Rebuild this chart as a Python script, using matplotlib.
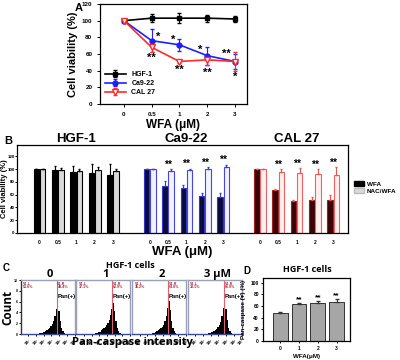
import numpy as np
import matplotlib.pyplot as plt
import matplotlib.patches as mpatches

plt.rcParams.update({
    "font.family": ["Liberation Sans", "DejaVu Sans"],
    "font.weight": "bold",
    "axes.labelweight": "bold",
    "axes.titleweight": "bold",
    "axes.linewidth": 0.9,
    "xtick.major.width": 0.7,
    "ytick.major.width": 0.7,
    "xtick.major.size": 2,
    "ytick.major.size": 2,
})

W, H = 400, 360          # figure size in px (dpi 100)

def box(x0, y0, x1, y1):
    """pixel box (top-left origin) -> figure fraction rect"""
    return [x0 / W, 1 - y1 / H, (x1 - x0) / W, (y1 - y0) / H]

# ---- data: panel A (dose response) -------------------------------------------
DOSES = ["0", "0.5", "1", "2", "3"]
A_HGF = [100, 103, 103, 103, 102]
A_HGF_ERR = [0, 5, 6, 4, 4]
A_CA9 = [100, 76, 71, 58, 51]
A_CA9_ERR = [0, 14, 7, 11, 9]
A_CAL = [100, 68, 51, 53, 51]
A_CAL_ERR = [0, 6, 2, 6, 11]
A_SIG_CA9 = ["", "*", "*", "*", "**"]
A_SIG_CAL = ["", "**", "**", "**", "*"]

# ---- data: panel B (WFA vs NAC/WFA) ------------------------------------------
CELLS = ["HGF-1", "Ca9-22", "CAL 27"]
B_WFA = [[100, 99, 96, 94, 91], [100, 74, 71, 58, 57], [100, 67, 50, 52, 51]]
B_WFA_ERR = [[0, 6, 9, 14, 17], [0, 7, 4, 5, 5], [0, 2, 2, 5, 9]]
B_NAC = [[100, 99, 97, 99, 97], [100, 98, 99, 100, 104], [100, 95, 94, 92, 91]]
B_NAC_ERR = [[0, 3, 3, 5, 3], [0, 2, 2, 3, 3], [0, 5, 8, 8, 12]]
B_SIG = [["", "", "", "", ""], ["", "**", "**", "**", "**"], ["", "**", "**", "**", "**"]]

# ---- data: panel C (flow histograms, counts per log-intensity bin) -----------
C_TITLES = ["0", "1", "2", "3 \u03bcM"]
C_LEFT = ["51.6%", "37.1%", "35.2%", "33.1%"]
C_RIGHT = ["48.4%", "62.9%", "64.8%", "66.9%"]
C_HIST = [
    [0, 0, 0, 0, 0, 0, 0, 0, 0, 0, 1, 2, 3, 5, 10, 15, 25, 40, 60, 80, 100, 120, 150, 190,
     250, 340, 470, 580, 420, 240, 110, 50, 20, 8, 3, 1, 0, 0, 0, 0],
    [0, 0, 0, 0, 0, 0, 0, 0, 0, 0, 1, 2, 4, 6, 12, 18, 30, 45, 65, 85, 105, 125, 160, 200,
     260, 350, 470, 570, 430, 250, 115, 50, 22, 9, 3, 1, 0, 0, 0, 0],
    [0, 0, 0, 0, 0, 0, 0, 0, 0, 0, 1, 2, 3, 5, 8, 12, 20, 32, 48, 65, 85, 105, 135, 175,
     235, 330, 480, 620, 450, 250, 110, 48, 20, 8, 3, 1, 0, 0, 0, 0],
    [0, 0, 0, 0, 0, 0, 0, 0, 0, 0, 1, 2, 3, 4, 8, 12, 18, 30, 45, 62, 82, 100, 130, 170,
     230, 330, 490, 660, 470, 260, 115, 50, 20, 8, 3, 1, 0, 0, 0, 0],
]
C_GATE = 4.69             # log10 intensity of the V1 gate

# ---- data: panel D -----------------------------------------------------------
D_DOSES = ["0", "1", "2", "3"]
D_VALS = [48, 63, 65, 67]
D_ERR = [1, 3, 4, 5]
D_SIG = ["", "**", "**", "**"]

fig = plt.figure(figsize=(W / 100, H / 100), dpi=100)

# ============================ A ================================================
axA = fig.add_axes(box(100, 4, 247, 104))
xa = np.arange(len(DOSES))
axA.errorbar(xa, A_HGF, yerr=A_HGF_ERR, color="black", marker="s", ms=3, lw=1.2,
             capsize=1.5, elinewidth=0.8, label="HGF-1")
axA.errorbar(xa, A_CA9, yerr=A_CA9_ERR, color="#1f1fff", marker="o", ms=3.5, lw=1.2,
             capsize=1.5, elinewidth=0.8, label="Ca9-22")
axA.errorbar(xa, A_CAL, yerr=A_CAL_ERR, color="#ff2a2a", marker="v", ms=4, mfc="white",
             lw=1.2, capsize=1.5, elinewidth=0.8, label="CAL 27")
ca9_off = [(0, 0), (0.22, 5), (-0.22, 6), (-0.25, 7), (-0.3, 9)]
cal_off = [(0, 0), (0, -13), (0, -10), (0, -16), (0, -19)]
for i in range(len(DOSES)):
    if A_SIG_CA9[i]:
        axA.text(i + ca9_off[i][0], A_CA9[i] + ca9_off[i][1], A_SIG_CA9[i], ha="center",
                 va="center", fontsize=8)
    if A_SIG_CAL[i]:
        axA.text(i + cal_off[i][0], A_CAL[i] + cal_off[i][1], A_SIG_CAL[i], ha="center",
                 va="center", fontsize=8)
axA.set_xlim(-0.86, 4.43)
axA.set_ylim(0, 120)
axA.set_xticks(xa, DOSES)
axA.set_yticks(range(0, 121, 20))
axA.tick_params(labelsize=4.5, length=2)
axA.set_ylabel("Cell viability (%)", fontsize=8, labelpad=3)
axA.set_xlabel("WFA (\u03bcM)", fontsize=8.5, labelpad=2)
axA.legend(loc="lower left", bbox_to_anchor=(0.0, 0.03), frameon=False, fontsize=5,
           handlelength=3, labelspacing=0.3, borderaxespad=0.3)
fig.text(75 / W, 1 - 8 / H, "A", fontsize=8, va="center")

# ============================ B ================================================
axB = fig.add_axes(box(17, 145, 348, 233))
wfa_face = ["#000000", "#0b0b3c", "#3a0509"]
wfa_edge = ["#000000", "#3535c8", "#a02020"]
nac_face = ["#d9d9d9", "#f3f3ff", "#fff0f0"]
nac_edge = ["#000000", "#4646e6", "#f06262"]
err_col = ["#000000", "#3a3ae0", "#e55555"]
bw = 0.3
ticks, labels = [], []
for g in range(len(CELLS)):
    xb = np.arange(len(DOSES)) + g * 6
    axB.bar(xb - 0.17, B_WFA[g], bw, color=wfa_face[g], edgecolor=wfa_edge[g], lw=0.8)
    axB.bar(xb + 0.17, B_NAC[g], bw, color=nac_face[g], edgecolor=nac_edge[g], lw=0.8)
    axB.errorbar(xb - 0.17, B_WFA[g], yerr=[np.zeros(5), B_WFA_ERR[g]], fmt="none",
                 ecolor=err_col[g], elinewidth=0.8, capsize=1)
    axB.errorbar(xb + 0.17, B_NAC[g], yerr=[np.zeros(5), B_NAC_ERR[g]], fmt="none",
                 ecolor=err_col[g], elinewidth=0.8, capsize=1)
    for i in range(len(DOSES)):
        if B_SIG[g][i]:
            axB.text(xb[i], B_NAC[g][i] + B_NAC_ERR[g][i] + 7, B_SIG[g][i], ha="center",
                     va="center", fontsize=7.5)
    axB.text(xb[2], 148, CELLS[g], ha="center", va="center", fontsize=9.5, clip_on=False)
    ticks += list(xb)
    labels += DOSES
axB.set_xlim(-1.23, 16.8)
axB.set_ylim(0, 138)
axB.set_xticks(ticks, labels)
axB.set_yticks(range(0, 121, 20))
axB.tick_params(labelsize=3.2, length=1.2, pad=0.6)
axB.tick_params(axis="x", labelsize=3.5, length=0, pad=5)
axB.set_ylabel("Cell viability (%)", fontsize=5.5)
axB.yaxis.set_label_coords((8.5 - 17) / 331, 0.5)
axB.set_xlabel("WFA (\u03bcM)", fontsize=9.5, labelpad=1)
fig.legend(handles=[mpatches.Patch(facecolor="black", edgecolor="black", label="WFA"),
                    mpatches.Patch(facecolor="#d9d9d9", edgecolor="#bbbbbb", label="NAC/WFA")],
           loc="upper left", bbox_to_anchor=(354 / W, 1 - 181 / H), frameon=False,
           fontsize=4.6, handlelength=1.6, handleheight=0.8, handletextpad=0.4,
           labelspacing=0.2, borderaxespad=0, borderpad=0)
fig.text(4 / W, 1 - 141 / H, "B", fontsize=8, va="center")

# ============================ C ================================================
edges = np.linspace(0, 7, len(C_HIST[0]) + 1)
cfont = ["Open Sans", "DejaVu Sans"]
for k in range(len(C_HIST)):
    x0 = 20.5 + k * 55.7
    ax = fig.add_axes(box(x0, 280, x0 + 54, 334))
    ax.stairs(C_HIST[k], edges, fill=True, color="black")
    ax.axvline(C_GATE, color="#e06070", lw=0.8)
    ax.set_xlim(0, 7)
    ax.set_ylim(0, 1000)
    for s in ax.spines.values():
        s.set_color("#9aa0b8")
        s.set_linewidth(1.0)
    ax.spines["bottom"].set_color("#3c4a9a")
    ax.spines["bottom"].set_linestyle((0, (1.5, 1)))
    ax.set_xticks(range(1, 8), [f"$10^{n}$" for n in range(1, 8)], rotation=45)
    ax.tick_params(axis="x", labelsize=2.5, length=1.5, pad=0.5)
    if k == 0:
        ax.set_yticks(range(0, 1001, 200), [str(v // 100) for v in range(0, 1001, 200)])
        ax.tick_params(axis="y", labelsize=2.5, length=1.5, pad=0.5)
        ax.spines["left"].set_color("#333333")
    else:
        ax.set_yticks([])
    ax.text(0.05, 0.97, "V1-L\n" + C_LEFT[k], transform=ax.transAxes, fontsize=2.6,
            color="#a02838", va="top", ha="left", linespacing=0.9)
    ax.text(C_GATE + 0.1, 970, "V1-R\n" + C_RIGHT[k], fontsize=2.6, color="#a02838",
            va="top", ha="left", linespacing=0.9)
    ax.text(C_GATE + 0.08, 700, "Pan(+)", fontsize=4.2, va="center", ha="left")
    ax.set_title(C_TITLES[k], fontsize=8, pad=1, family=cfont, fontweight="bold", x=0.55)
fig.text(130 / W, 1 - 265 / H, "HGF-1 cells", ha="center", va="center", fontsize=6.5,
         family=cfont)
fig.text(8 / W, 1 - 307 / H, "Count", rotation=90, ha="center", va="center",
         fontsize=8.5, family=cfont)
fig.text(132 / W, 1 - 343 / H, "Pan-caspase intensity", ha="center", va="center",
         fontsize=8, family=cfont)
fig.text(3 / W, 1 - 268 / H, "C", fontsize=7, va="center")

# ============================ D ================================================
axD = fig.add_axes(box(263, 278, 350, 341))
xd = np.arange(len(D_DOSES))
axD.bar(xd, D_VALS, 0.78, color="#a6a6a6", edgecolor="#333333", lw=0.7)
axD.errorbar(xd, D_VALS, yerr=[np.zeros(4), D_ERR], fmt="none", ecolor="#333333",
             elinewidth=0.7, capsize=1.2)
for i in range(len(D_DOSES)):
    if D_SIG[i]:
        axD.text(xd[i], D_VALS[i] + D_ERR[i] + 5, D_SIG[i], ha="center", va="center",
                 fontsize=6)
axD.set_xlim(-0.92, 3.72)
axD.set_ylim(0, 108)
axD.set_xticks(xd, D_DOSES)
axD.set_yticks(range(0, 101, 20))
axD.tick_params(labelsize=3.5, length=1.5, pad=1.5)
axD.tick_params(axis="x", pad=2)
axD.set_ylabel("Pan-caspase (+) (%)", fontsize=4.5, labelpad=3)
axD.set_xlabel("WFA(\u03bcM)", fontsize=4.5, labelpad=2)
fig.text(307 / W, 1 - 270 / H, "HGF-1 cells", ha="center", va="center", fontsize=6.5,
         family=cfont)
fig.text(243 / W, 1 - 271 / H, "D", fontsize=7, va="center")

fig.savefig("out.png", dpi=100)
